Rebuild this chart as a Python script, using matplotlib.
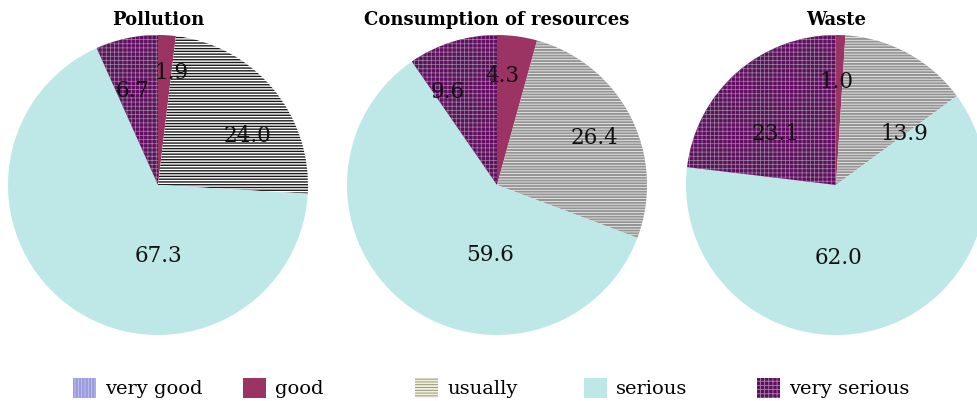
import matplotlib

matplotlib.use("Agg")

import matplotlib.pyplot as plt
import numpy as np
from matplotlib.patches import Patch

# categories and shares (%) per pie
categories = ["very good", "good", "usually", "serious", "very serious"]
titles = ["Pollution", "Consumption of resources", "Waste"]
pollution = [0.0, 1.9, 24.0, 67.3, 6.7]
consumption = [0.0, 4.3, 26.4, 59.6, 9.6]
waste = [0.0, 1.0, 13.9, 62.0, 23.1]
series = [pollution, consumption, waste]

# styles
face_colors = ["#9a9ade", "#9b3363", "#ffffff", "#bee8e8", "#620d62"]
hatches = ["|||||", "", "------", "", "++++"]
hatch_colors = ["#c8c8f0", "#9b3363", "#1a1a1a", "#bee8e8", "#9a8a9e"]
hatch_widths = [0.8, 0.8, 1.0, 0.8, 0.5]
# the stripe of "usually" is grey on the second and third pie
usually_face = ["#ffffff", "#959595", "#959595"]
usually_hatch = ["#1a1a1a", "#f4f4f4", "#f4f4f4"]
usually_width = [1.0, 0.55, 0.55]

# label placement per pie as (angle in degrees, radius), Excel "best fit" look
label_spots = [
    [None, (83, 0.75), (29, 0.68), (-90, 0.47), (105, 0.65)],
    [None, (87, 0.73), (26, 0.72), (-96, 0.47), (118, 0.70)],
    [None, (89.5, 0.69), (36.5, 0.57), (-88, 0.49), (140, 0.53)],
]
centers_px = [158, 497, 836]
radius_px = 150
center_y_px = 185
W, H = 978, 401

plt.rcParams["hatch.linewidth"] = 0.6
plt.rcParams["font.family"] = ["DejaVu Serif"]

fig = plt.figure(figsize=(W / 100, H / 100), dpi=100)


def style_patch(p, fc, hc, hatch, hw):
    p.set_facecolor(fc)
    p.set_edgecolor(hc)
    p.set_linewidth(0)
    if hatch:
        p.set_hatch(hatch)
        if hasattr(p, "set_hatch_linewidth"):
            p.set_hatch_linewidth(hw)


for k, values in enumerate(series):
    cx = centers_px[k]
    ax = fig.add_axes([(cx - radius_px) / W, (H - center_y_px - radius_px) / H,
                       2 * radius_px / W, 2 * radius_px / H])
    wedges, _ = ax.pie(values, startangle=90, counterclock=False, radius=1.0,
                       colors=face_colors, wedgeprops=dict(linewidth=0))
    for i, w in enumerate(wedges):
        if i == 2:
            style_patch(w, usually_face[k], usually_hatch[k], hatches[i], usually_width[k])
        else:
            style_patch(w, face_colors[i], hatch_colors[i], hatches[i], hatch_widths[i])
    for i, v in enumerate(values):
        spot = label_spots[k][i]
        if v <= 0 or spot is None:
            continue
        ang, r = spot
        ax.text(r * np.cos(np.radians(ang)), r * np.sin(np.radians(ang)), f"{v:.1f}",
                ha="center", va="center", fontsize=15.5, color="#111111")
    ax.set_xlim(-1, 1)
    ax.set_ylim(-1, 1)
    ax.set_aspect("equal")
    ax.axis("off")
    fig.text(cx / W, 1 - 20 / H, titles[k], ha="center", va="center",
             fontsize=13, fontweight="bold")

# legend: five equal slots along the bottom
slot_x_px = [73, 243, 415, 584, 757]
legend_face = ["#9a9ade", "#9b3363", "#f0f0e0", "#bee8e8", "#620d62"]
legend_hatch_col = ["#c8c8f0", "#9b3363", "#8a8a60", "#bee8e8", "#9a8a9e"]
for i, name in enumerate(categories):
    handle = Patch(label=name)
    style_patch(handle, legend_face[i], legend_hatch_col[i], hatches[i], hatch_widths[i])
    fig.legend(handles=[handle], loc="center left",
               bbox_to_anchor=(slot_x_px[i] / W, 1 - 388 / H),
               frameon=False, fontsize=14, handlelength=1.2, handleheight=1.2,
               handletextpad=0.45, borderpad=0, borderaxespad=0)

fig.savefig("out.png", dpi=100)
